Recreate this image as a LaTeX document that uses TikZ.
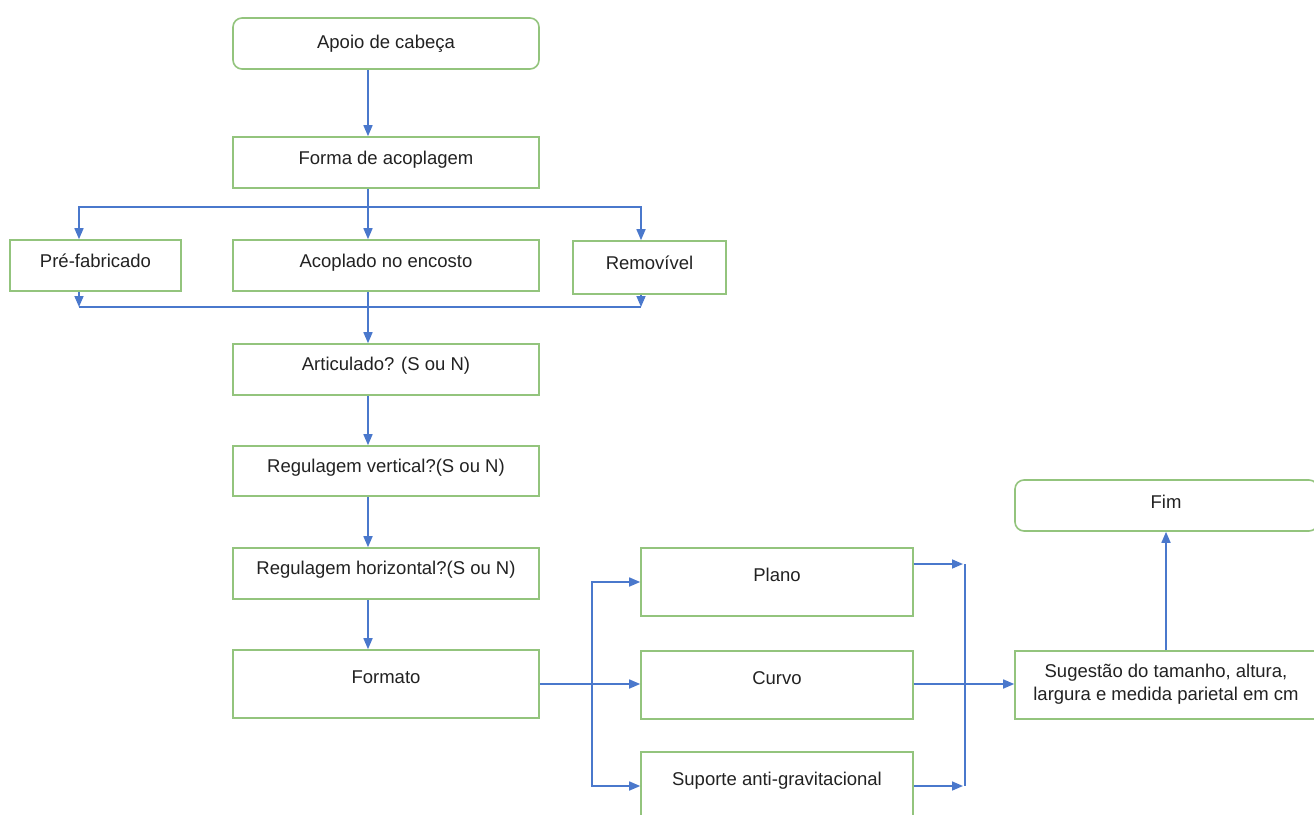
\documentclass[tikz,border=0pt]{standalone}
\usepackage{fontspec}
\setmainfont{Liberation Sans}
\usetikzlibrary{arrows.meta}
\definecolor{boxgreen}{HTML}{93C47D}
\definecolor{flowblue}{HTML}{4A78CC}
\definecolor{ink}{HTML}{222222}
\begin{document}
\begin{tikzpicture}[x=1pt,y=-1pt,
  box/.style={draw=boxgreen, line width=1.6pt, fill=white, inner sep=0pt},
  rbox/.style={box, rounded corners=9pt},
  lbl/.style={text=ink, font=\fontsize{18.5}{23}\selectfont, inner sep=0pt, align=center, anchor=base},
  flow/.style={draw=flowblue, line width=1.6pt},
  arr/.style={flow, -{Triangle[length=11pt,width=9pt]}}]
\useasboundingbox (0,0) rectangle (1314,814);
\clip (0,0) rectangle (1314,814);

% boxes
\node[rbox, minimum width=306pt, minimum height=51pt] (apoio) at (386,43.5) {};
\node[box, minimum width=306pt, minimum height=51pt] (forma) at (386,162.5) {};
\node[box, minimum width=171pt, minimum height=51pt] (pre) at (95.5,265.5) {};
\node[box, minimum width=306pt, minimum height=51pt] (acop) at (386,265.5) {};
\node[box, minimum width=153pt, minimum height=53pt] (rem) at (649.5,267.5) {};
\node[box, minimum width=306pt, minimum height=51pt] (artic) at (386,369.5) {};
\node[box, minimum width=306pt, minimum height=50pt] (regv) at (386,471) {};
\node[box, minimum width=306pt, minimum height=51pt] (regh) at (386,573.5) {};
\node[box, minimum width=306pt, minimum height=68pt] (fmt) at (386,684) {};
\node[box, minimum width=272pt, minimum height=68pt] (plano) at (777,582) {};
\node[box, minimum width=272pt, minimum height=68pt] (curvo) at (777,685) {};
\node[box, minimum width=272pt, minimum height=78pt] (sup) at (777,791) {};
\node[box, minimum width=303pt, minimum height=68pt] (sug) at (1166.5,685) {};
\node[rbox, minimum width=303pt, minimum height=51pt] (fim) at (1166.5,505.5) {};

% labels
\node[lbl] (tapoio) at (386,48) {Apoio de cabeça};
\node[lbl] (tforma) at (386,164) {Forma de acoplagem};
\node[lbl] (tpre) at (95.5,267) {Pré-fabricado};
\node[lbl] (tacop) at (386,267) {Acoplado no encosto};
\node[lbl] (trem) at (649.5,269) {Removível};
\node[lbl] (tartic) at (386,370) {Articulado? (S ou N)};
\node[lbl] (tregv) at (386,472) {Regulagem vertical?(S ou N)};
\node[lbl] (tregh) at (386,574) {Regulagem horizontal?(S ou N)};
\node[lbl] (tfmt) at (386,683) {Formato};
\node[lbl] (tplano) at (777,581) {Plano};
\node[lbl] (tcurvo) at (777,684) {Curvo};
\node[lbl] (tsup) at (777,785) {Suporte anti-gravitacional};
\node[lbl, anchor=center] (tsug) at (1166,684) {Sugestão do tamanho, altura,\\largura e medida parietal em cm};
\node[lbl] (tfim) at (1166,508) {Fim};

% guide coordinates
\coordinate (spine) at (368,0);
\coordinate (jn) at (368,207);
\coordinate (colL) at (79,0);
\coordinate (colR) at (641,0);
\coordinate (mL) at (79,307);
\coordinate (mR) at (641,307);
\coordinate (rowP) at (0,582);
\coordinate (rowC) at (0,684);
\coordinate (rowS) at (0,786);
\coordinate (fan) at (592,684);
\coordinate (outP) at (963,564);
\coordinate (outS) at (963,786);
\coordinate (mgTop) at (965,564);
\coordinate (mgBot) at (965,786);
\coordinate (up) at (1166,0);

% main column
\draw[arr] (apoio.south -| spine) -- (forma.north -| spine);
\draw[arr] (forma.south -| spine) -- (acop.north -| spine);
\draw[arr] (jn) -| (pre.north -| colL);
\draw[arr] (jn) -| (rem.north -| colR);
\draw[arr] (pre.south -| colL) -- (mL);
\draw[arr] (rem.south -| colR) -- (mR);
\draw[flow] (mL) -- (mR);
\draw[arr] (acop.south -| spine) -- (artic.north -| spine);
\draw[arr] (artic.south -| spine) -- (regv.north -| spine);
\draw[arr] (regv.south -| spine) -- (regh.north -| spine);
\draw[arr] (regh.south -| spine) -- (fmt.north -| spine);

% shape options
\draw[arr] (fmt.east |- rowC) -- (curvo.west |- rowC);
\draw[arr] (fan) |- (plano.west |- rowP);
\draw[arr] (fan) |- (sup.west |- rowS);

% merge towards the size suggestion
\draw[arr] (plano.east |- outP) -- (outP);
\draw[arr] (sup.east |- outS) -- (outS);
\draw[flow] (mgTop) -- (mgBot);
\draw[arr] (curvo.east |- rowC) -- (sug.west |- rowC);
\draw[arr] (sug.north -| up) -- (fim.south -| up);
\end{tikzpicture}
\end{document}
